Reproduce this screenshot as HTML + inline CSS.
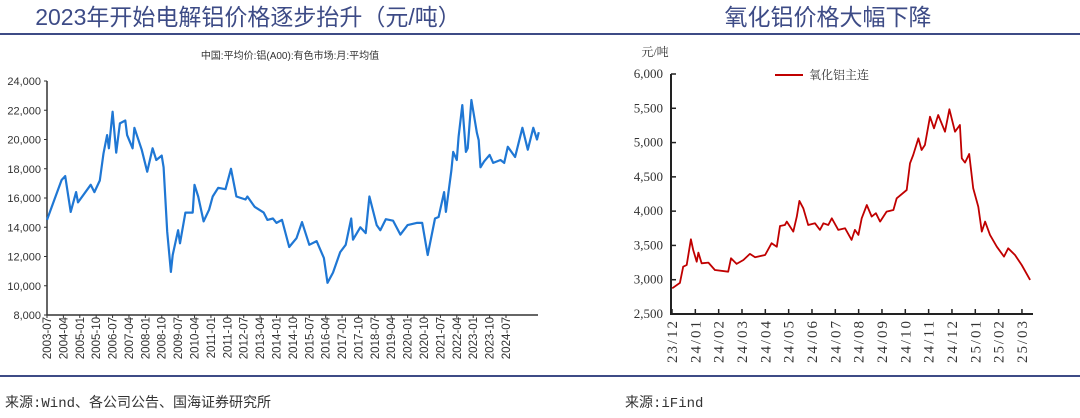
<!DOCTYPE html>
<html><head><meta charset="utf-8">
<style>
body{margin:0;width:1080px;height:418px;background:#fff;overflow:hidden;font-family:"Liberation Sans","Noto Sans CJK SC",sans-serif}
svg{position:absolute;left:0;top:0}
</style></head><body>
<svg id="s" width="1080" height="418" viewBox="0 0 1080 418">
<text x="248" y="25" text-anchor="middle" font-size="23" fill="#3d4b86" font-family="Liberation Sans, Noto Sans CJK SC, sans-serif">2023年开始电解铝价格逐步抬升（元/吨）</text>
<text x="828" y="25" text-anchor="middle" font-size="23" fill="#3d4b86" font-family="Liberation Sans, Noto Sans CJK SC, sans-serif">氧化铝价格大幅下降</text>
<rect x="0" y="33" width="1080" height="2" fill="#3d4b86"/>
<rect x="0" y="375" width="1080" height="2" fill="#3d4b86"/>
<text x="5" y="407" font-size="14" fill="#333" font-family="Liberation Mono, Noto Sans CJK SC, monospace">来源:Wind、各公司公告、国海证券研究所</text>
<text x="625" y="407" font-size="14" fill="#333" font-family="Liberation Mono, Noto Sans CJK SC, monospace">来源:iFind</text>
<text x="290" y="59" text-anchor="middle" font-size="10" fill="#333">中国:平均价:铝(A00):有色市场:月:平均值</text>
<text x="655" y="56" text-anchor="middle" font-size="12" fill="#333" font-family="Liberation Serif, Noto Serif CJK SC, serif">元/吨</text>
<line x1="775" y1="75" x2="803" y2="75" stroke="#c00000" stroke-width="2"/>
<text x="809" y="79" font-size="12" fill="#333" font-family="Liberation Serif, Noto Serif CJK SC, serif">氧化铝主连</text>
<g id="L"></g><g id="R"></g>
</svg>
<script>
// Left chart data: month offsets from 2003-07, and price values
const leftMonths=[0,4,8,10,13,16,17,24,26,29,31,33,34,36,38,40,43,44,47,48,52,55,58,60,63,64,66,68,69,72,73,76,80,81,83,86,89,91,94,98,101,104,109,110,114,119,121,124,126,129,133,137,140,144,148,152,154,157,161,164,167,168,172,175,177,181,183,186,190,194,198,203,206,209,213,215,218,219,222,223,225,226,228,230,231,233,236,237,238,240,243,245,249,251,253,257,261,264,267,269,270];
const leftValues=[14500,15870,17230,17500,15050,16400,15700,16900,16400,17200,19050,20300,19400,21900,19100,21100,21300,20300,19400,20800,19300,17800,19400,18600,18900,18100,13700,10950,12100,13800,12900,15000,15000,16900,16100,14400,15200,16100,16700,16600,18000,16100,15900,16100,15400,15000,14500,14600,14300,14500,12650,13250,14350,12800,13050,11900,10200,10900,12300,12800,14600,13150,14000,13600,16100,14150,13800,14550,14450,13500,14150,14300,14300,12100,14600,14700,16400,15050,17900,19150,18600,20200,22350,19150,19400,22700,20450,19950,18100,18500,18950,18400,18600,18400,19500,18800,20800,19300,20800,20000,20500];
const leftYTicks=[8000,10000,12000,14000,16000,18000,20000,22000,24000];
const leftXLabels=["2003-07","2004-04","2005-01","2005-10","2006-07","2007-04","2008-01","2008-10","2009-07","2010-04","2011-01","2011-10","2012-07","2013-04","2014-01","2014-10","2015-07","2016-04","2017-01","2017-10","2018-07","2019-04","2020-01","2020-10","2021-07","2022-04","2023-01","2023-10","2024-07"];
// Right chart data: time in months from 23/12, price values
const rightT=[0.01,0.34,0.48,0.63,0.81,0.91,1.06,1.13,1.27,1.56,1.84,2.41,2.53,2.77,3.06,3.34,3.56,3.99,4.27,4.49,4.63,4.84,4.92,5.20,5.35,5.46,5.63,5.84,6.13,6.34,6.49,6.70,6.85,7.13,7.42,7.70,7.84,7.99,8.13,8.35,8.56,8.74,8.92,9.20,9.49,9.63,10.06,10.20,10.34,10.56,10.70,10.84,11.06,11.23,11.41,11.70,11.89,12.13,12.34,12.42,12.56,12.74,12.91,13.13,13.28,13.42,13.63,13.92,14.23,14.41,14.70,14.99,15.35];
const rightValues=[2875,2953,3190,3215,3590,3434,3263,3395,3240,3249,3142,3117,3313,3230,3288,3376,3328,3361,3532,3482,3784,3798,3847,3701,3920,4149,4042,3798,3823,3726,3823,3798,3896,3726,3750,3580,3726,3653,3896,4090,3920,3970,3847,3993,4017,4188,4309,4698,4819,5062,4892,4965,5377,5208,5402,5159,5485,5159,5256,4771,4708,4834,4333,4065,3701,3847,3653,3482,3337,3458,3361,3215,2997];
const rightYTicks=[2500,3000,3500,4000,4500,5000,5500,6000];
const rightXLabels=["23/12","24/01","24/02","24/03","24/04","24/05","24/06","24/07","24/08","24/09","24/10","24/11","24/12","25/01","25/02","25/03"];

const NS="http://www.w3.org/2000/svg";
function mk(p,t,a){const e=document.createElementNS(NS,t);for(const k in a)e.setAttribute(k,a[k]);p.appendChild(e);return e;}
// left
const L=document.getElementById('L');
const lx=m=>47+m*1.8214, ly=v=>315-(v-8000)/16000*234;
let e=mk(L,'path',{d:'M47,81V315H538',fill:'none',stroke:'#333','stroke-width':1.5});


leftYTicks.forEach(v=>{
  let t=mk(L,'line',{x1:44,x2:47,y1:ly(v),y2:ly(v),stroke:'#333'});
  
  
  let tx=mk(L,'text',{x:41,y:ly(v)+4,'text-anchor':'end','font-size':11,fill:'#333'});
  tx.textContent=v.toLocaleString('en-US');
  
  
});
leftXLabels.forEach((s,i)=>{
  const x=lx(i*9);
  let t=mk(L,'line',{x1:x,x2:x,y1:315,y2:318,stroke:'#333'});
  
  
  let tx=mk(L,'text',{x:0,y:0,'text-anchor':'end','font-size':11.5,fill:'#333',transform:`translate(${x+4},317) rotate(-90)`});
  tx.textContent=s;
  
  
});
let lp=mk(L,'path',{d:leftMonths.map((m,i)=>(i?'L':'M')+lx(m).toFixed(1)+','+ly(leftValues[i]).toFixed(1)).join(''),fill:'none',stroke:'#1f77d4','stroke-width':2.2,'stroke-linejoin':'round'});


// right
const R=document.getElementById('R');
const rx=t=>672+t*23.33, ry=v=>314-(v-2500)/3500*240;
let ra=mk(R,'path',{d:'M671,74V314H1033',fill:'none',stroke:'#222','stroke-width':2});


rightYTicks.forEach(v=>{
  let t=mk(R,'line',{x1:671,x2:676,y1:ry(v),y2:ry(v),stroke:'#222','stroke-width':1.5});
  
  
  let tx=mk(R,'text',{x:663,y:ry(v)+4,'text-anchor':'end','font-size':13,fill:'#333','font-family':'Liberation Serif, serif'});
  tx.textContent=v.toLocaleString('en-US');
  
  
});
rightXLabels.forEach((s,i)=>{
  const x=rx(i);
  let t=mk(R,'line',{x1:x,x2:x,y1:309,y2:314,stroke:'#222','stroke-width':1.5});
  
  
  let tx=mk(R,'text',{x:0,y:0,'text-anchor':'end','font-size':15,fill:'#333','font-family':'Liberation Serif, serif','textLength':42,transform:`translate(${x+5},321) rotate(-90)`});
  tx.textContent=s;
  
  
});
let rp=mk(R,'path',{d:rightT.map((t,i)=>(i?'L':'M')+rx(t).toFixed(1)+','+ry(rightValues[i]).toFixed(1)).join(''),fill:'none',stroke:'#c00000','stroke-width':1.8,'stroke-linejoin':'round'});


</script>
</body></html>
